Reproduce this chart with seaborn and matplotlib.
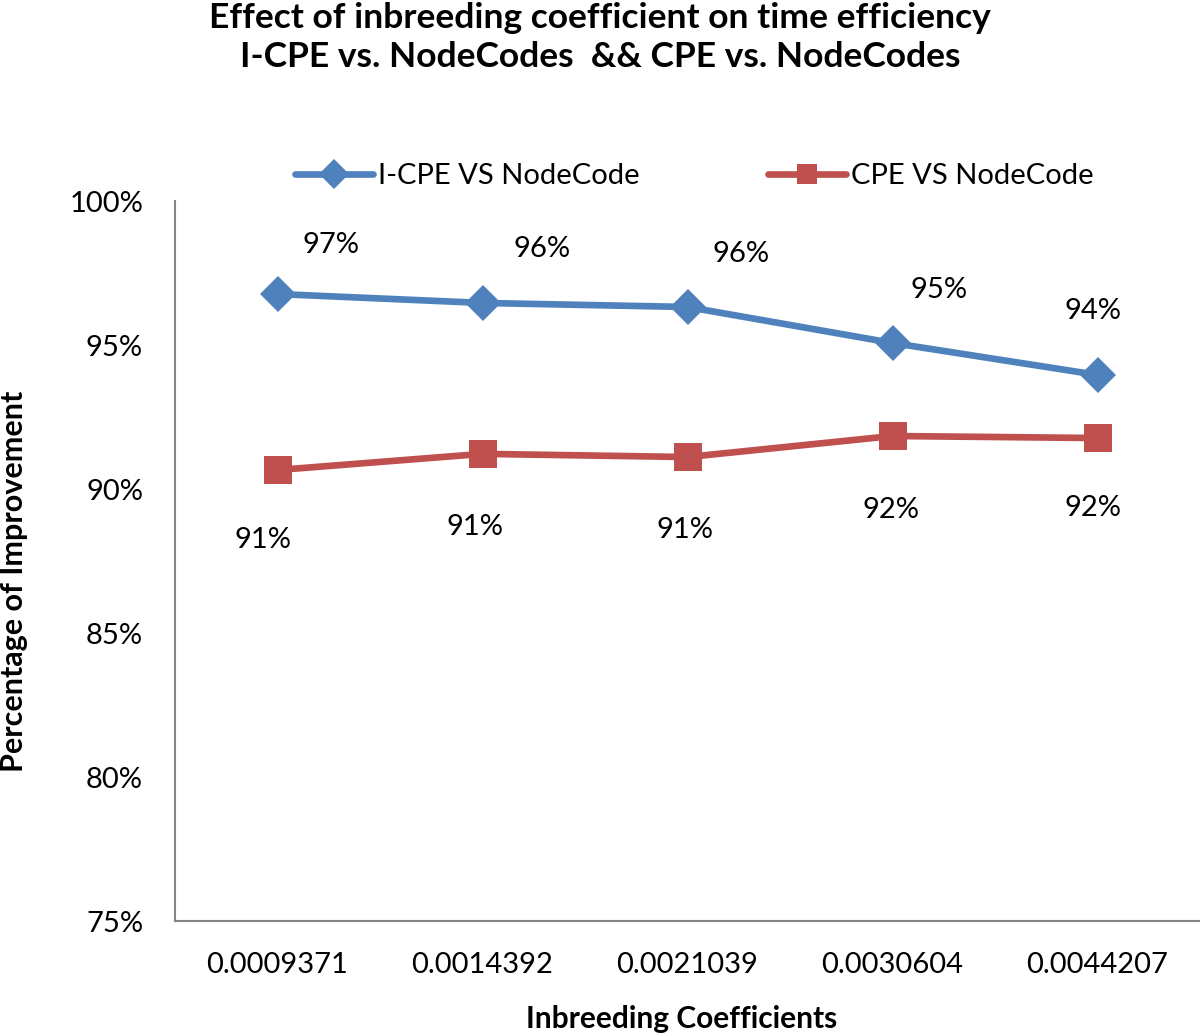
import matplotlib
matplotlib.use("Agg")
import matplotlib.pyplot as plt
import seaborn as sns
import pandas as pd
from matplotlib.ticker import FuncFormatter

categories = ["0.0009371", "0.0014392", "0.0021039", "0.0030604", "0.0044207"]
icpe_vs_nodecode = [0.9677, 0.9646, 0.9632, 0.9507, 0.9396]
cpe_vs_nodecode = [0.9066, 0.9122, 0.9111, 0.9184, 0.9177]
series_names = ["I-CPE VS NodeCode", "CPE VS NodeCode"]

# label offsets in pixels (dx, dy upward positive)
icpe_offsets = [(53, 49), (60, 54), (54, 53), (47, 53), (-5, 64)]
cpe_offsets = [(-14, -70), (-8, -73), (-2, -73), (-2, -74), (-5, -70)]

sns.set_theme(style="white")
plt.rcParams['font.family'] = ['Lato', 'DejaVu Sans']
plt.rcParams['text.color'] = 'black'

rows = []
for i, c in enumerate(categories):
    rows.append({"pos": i, "value": icpe_vs_nodecode[i], "series": series_names[0]})
    rows.append({"pos": i, "value": cpe_vs_nodecode[i], "series": series_names[1]})
df = pd.DataFrame(rows)

blue = "#4F81BD"
red = "#C0504D"
H = 1033

fig = plt.figure(figsize=(12, 10.33), dpi=100)
ax = fig.add_axes([175/1200, 1 - 921/H, 1 - 175/1200, (921-201)/H])

sns.lineplot(data=df, x="pos", y="value", hue="series", style="series",
             palette={series_names[0]: blue, series_names[1]: red},
             markers={series_names[0]: "D", series_names[1]: "s"},
             dashes=False, linewidth=4.8, markeredgewidth=0,
             ax=ax, legend=True)
for line in ax.lines:
    if line.get_marker() == "D":
        line.set_markersize(18)
    elif line.get_marker() == "s":
        line.set_markersize(20)

ax.set_xlim(-0.5, len(categories) - 0.5)
ax.set_ylim(0.75, 1.0)
ax.set_xticks(range(len(categories)))
ax.set_xticklabels(categories)
ax.set_yticks([0.75, 0.80, 0.85, 0.90, 0.95, 1.00])
ax.yaxis.set_major_formatter(FuncFormatter(lambda v, p: f"{round(v*100):.0f}%"))
ax.tick_params(axis='both', labelsize=21, colors='black', length=0)
ax.tick_params(axis='x', pad=22)
ax.tick_params(axis='y', pad=23)

for s in ["top", "right"]:
    ax.spines[s].set_visible(False)
for s in ["left", "bottom"]:
    ax.spines[s].set_color("#868686")
    ax.spines[s].set_linewidth(1.5)

ax.set_xlabel("")
ax.set_ylabel("")
fig.text(682/1200, 1 - 1028/H, "Inbreeding Coefficients", ha="center", va="baseline",
         fontsize=21.5, fontweight="bold")
fig.text(14/1200, 1 - 581/H, "Percentage of Improvement", ha="center", va="center",
         rotation=90, fontsize=22, fontweight="bold")

px = 72 / 100
for i, v in enumerate(icpe_vs_nodecode):
    dx, dy = icpe_offsets[i]
    ax.annotate(f"{round(v*100):.0f}%", (i, v), xytext=(dx*px, dy*px),
                textcoords="offset points", ha="center", va="center", fontsize=21)
for i, v in enumerate(cpe_vs_nodecode):
    dx, dy = cpe_offsets[i]
    ax.annotate(f"{round(v*100):.0f}%", (i, v), xytext=(dx*px, dy*px),
                textcoords="offset points", ha="center", va="center", fontsize=21)

handles, labels = ax.get_legend_handles_labels()
ax.get_legend().remove()
leg = fig.legend(handles, labels, loc="center", bbox_to_anchor=(694/1200, 1 - 176/H), ncol=2,
                 frameon=False, fontsize=21, handlelength=2.7, columnspacing=4.4,
                 handletextpad=0.15)
for h in leg.legend_handles:
    h.set_linewidth(4.8)
    h.set_markeredgewidth(0)
    h.set_markersize(15 if h.get_marker() == "D" else 14)

fig.text(0.5, 1 - 28/H, "Effect of inbreeding coefficient on time efficiency",
         ha="center", va="baseline", fontsize=25.5, fontweight="bold")
fig.text(0.5, 1 - 67/H, "I-CPE vs. NodeCodes  && CPE vs. NodeCodes",
         ha="center", va="baseline", fontsize=25.5, fontweight="bold")

fig.savefig("out.png", dpi=100)
